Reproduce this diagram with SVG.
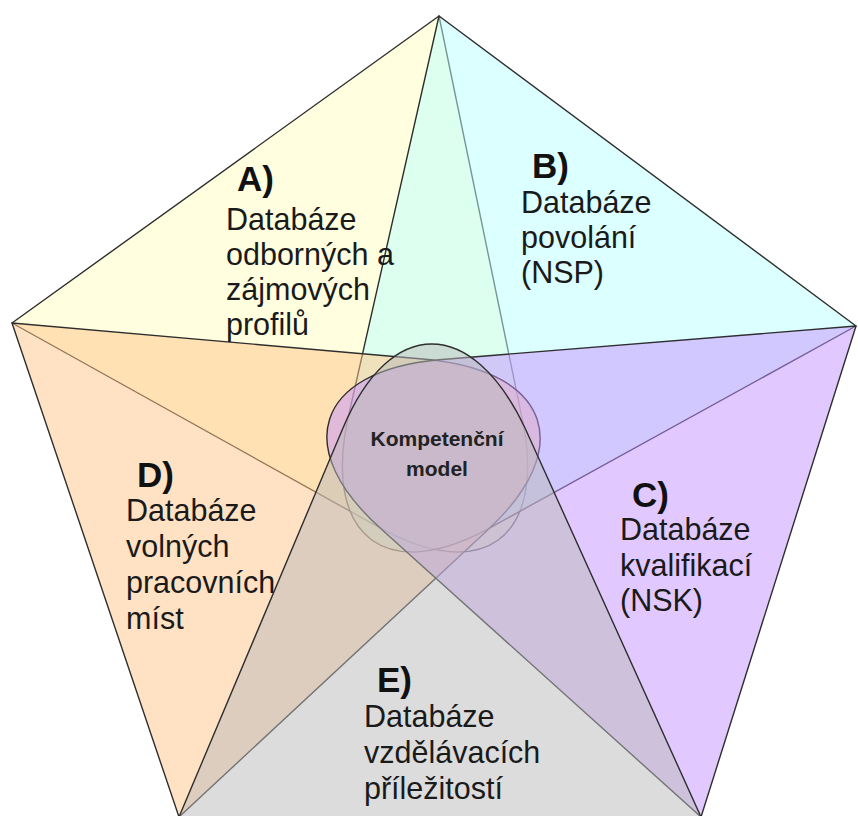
<svg xmlns="http://www.w3.org/2000/svg" width="858" height="816" viewBox="0 0 858 816">
  <style>
    .petal { stroke: #2e2e2e; stroke-width: 1.4; fill-opacity: 0.5; stroke-linejoin: round; }
    .lbl { font-family: "Liberation Sans", Arial, sans-serif; font-weight: bold; font-size: 35px; fill: #111; }
    .txt { font-family: "Liberation Sans", Arial, sans-serif; font-size: 30.5px; fill: #1a1a1a; }
    .core { font-family: "Liberation Sans", Arial, sans-serif; font-weight: bold; font-size: 21px; fill: #222; text-anchor: middle; }
  </style>
  <rect width="858" height="816" fill="#ffffff"/>

  <!-- five rounded-apex triangles, each on one side of the pentagon -->
  <g id="shape-a">
    <path class="petal" fill="#ffffbf" d="M439,16 L522.5,420.3 C546.7,538.7 482,585.7 376.9,526.1 L12,323 Z"/>
  </g>
  <g id="shape-b">
    <path class="petal" fill="#b9ffff" d="M856,326 L493.1,526.1 C388,585.7 323.3,538.7 347.5,420.3 L439,16 Z"/>
  </g>
  <g id="shape-d">
    <path class="petal" fill="#ffc387" d="M12,323 L431,359.7 C551,373.2 575.8,449.3 486.6,530.9 L179,817 Z"/>
  </g>
  <g id="shape-c">
    <path class="petal" fill="#c391ff" d="M701,817 L383.4,530.9 C290,449.3 315,371 439,359.7 L856,326 Z"/>
  </g>
  <g id="shape-e">
    <path class="petal" fill="#b9b9b9" d="M179,817 L343,428 C390,316 472,316 525,428 L701,817 Z"/>
  </g>

  <g id="connectors"></g>

  <!-- labels -->
  <g id="label-a">
    <text class="lbl" x="237" y="191">A)</text>
    <text class="txt" x="226" y="230">Databáze</text>
    <text class="txt" x="226" y="265">odborných a</text>
    <text class="txt" x="226" y="300">zájmových</text>
    <text class="txt" x="226" y="335">profilů</text>
  </g>
  <g id="label-b">
    <text class="lbl" x="532" y="178">B)</text>
    <text class="txt" x="521" y="213">Databáze</text>
    <text class="txt" x="521" y="248">povolání</text>
    <text class="txt" x="521" y="283">(NSP)</text>
  </g>
  <g id="label-c">
    <text class="lbl" x="632" y="507">C)</text>
    <text class="txt" x="620" y="540">Databáze</text>
    <text class="txt" x="620" y="576">kvalifikací</text>
    <text class="txt" x="620" y="611">(NSK)</text>
  </g>
  <g id="label-d">
    <text class="lbl" x="137" y="487">D)</text>
    <text class="txt" x="126" y="521">Databáze</text>
    <text class="txt" x="126" y="557">volných</text>
    <text class="txt" x="126" y="593">pracovních</text>
    <text class="txt" x="126" y="629">míst</text>
  </g>
  <g id="label-e">
    <text class="lbl" x="377" y="692">E)</text>
    <text class="txt" x="364" y="727">Databáze</text>
    <text class="txt" x="364" y="763">vzdělávacích</text>
    <text class="txt" x="364" y="799">příležitostí</text>
  </g>
  <g id="core">
    <text class="core" x="437" y="446">Kompetenční</text>
    <text class="core" x="437" y="476">model</text>
  </g>
</svg>
